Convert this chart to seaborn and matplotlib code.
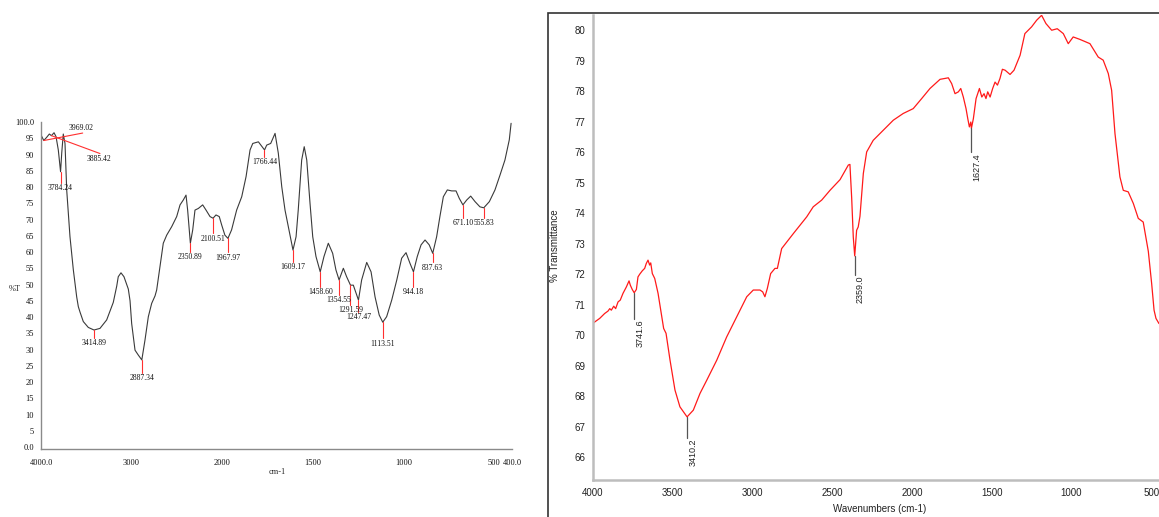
import numpy as np
import pandas as pd
import matplotlib
matplotlib.use("Agg")
import matplotlib.pyplot as plt
from matplotlib.patches import Rectangle
from matplotlib.ticker import MultipleLocator
import seaborn as sns

# ---------------- data: left spectrum ----------------
wn_left = [4000, 3969, 3937, 3908, 3885, 3856, 3834, 3809, 3784, 3771, 3754, 3735, 3716, 3680,
           3643, 3606, 3588, 3569, 3533, 3478, 3415, 3349, 3275, 3202, 3164, 3147, 3117, 3084,
           3036, 3017, 2999, 2962, 2926, 2887, 2852, 2815, 2778, 2741, 2723, 2686, 2650, 2612,
           2557, 2502, 2465, 2429, 2399, 2381, 2351, 2325, 2300, 2263, 2215, 2178, 2134, 2100.5,
           2068, 2032, 2005, 1985, 1968, 1948, 1920, 1892, 1868, 1846, 1831, 1800, 1766, 1754,
           1732, 1708, 1690, 1671, 1653, 1635, 1609, 1592, 1580, 1561, 1547, 1533, 1515, 1500,
           1482, 1458.6, 1438, 1414, 1390, 1372, 1354.5, 1331, 1313, 1291.6, 1276, 1247.5, 1230,
           1202, 1178, 1156, 1133, 1113.5, 1092, 1064, 1036, 1009, 985, 963, 944, 923, 902, 880,
           857, 837.6, 816, 798, 779, 757, 733, 709, 691, 671, 650, 628, 604, 577, 555.8, 525,
           494, 466, 439, 415, 405]
t_left = [96.0, 94.3, 95.3, 96.3, 95.8, 96.7, 95.5, 91.4, 84.7, 90.5, 96.3, 93.4, 79.0, 64.7,
          54.5, 46.2, 43.2, 41.5, 38.6, 36.8, 36.0, 36.5, 39.1, 44.5, 49.5, 52.4, 53.6, 52.4,
          48.6, 45.0, 38.0, 29.8, 28.3, 26.8, 32.9, 40.1, 44.2, 46.5, 48.3, 55.5, 62.7, 65.2,
          67.8, 70.9, 74.5, 76.0, 77.5, 72.9, 62.7, 66.8, 72.9, 73.4, 74.5, 72.9, 70.9, 70.4,
          71.4, 70.9, 68.3, 65.2, 64.2, 66.8, 72.9, 77.0, 83.2, 91.4, 93.4, 93.9, 91.4, 92.9,
          93.4, 96.5, 90.4, 80.1, 72.9, 67.8, 60.6, 64.7, 72.9, 88.3, 92.4, 88.3, 75.0, 64.7,
          58.6, 53.9, 58.6, 62.7, 59.6, 54.5, 51.4, 55.0, 52.4, 49.8, 49.8, 45.2, 51.4,
          56.8, 53.9, 46.2, 40.6, 38.4, 40.1, 45.2, 51.4, 58.1, 59.8, 56.5, 53.9, 58.6, 62.2, 63.7,
          62.2, 59.6, 64.7, 70.9, 77.0, 79.1, 78.8, 78.8, 76.5, 74.5, 76.0, 77.2, 75.5, 73.9, 73.6, 75.5,
          79.1, 83.7, 88.3, 94.5, 99.6]
peaks_left = [3784.24, 3414.89, 2887.34, 2350.89, 2100.51, 1967.97, 1766.44, 1609.17, 1458.60,
              1354.55, 1291.59, 1247.47, 1113.51, 944.18, 837.63, 671.10, 555.83]
peaks_left_diag = [3969.02, 3885.42]
left_xticks = [4000, 3000, 2000, 1500, 1000, 500, 400]
left_xticklabels = ["4000.0", "3000", "2000", "1500", "1000", "500", "400.0"]
left_yticks = list(range(0, 101, 5))
left_yticklabels = ["0.0"] + [str(v) for v in range(5, 100, 5)] + ["100.0"]

# ---------------- data: right spectrum ----------------
wn_right = [3998, 3958, 3927, 3906, 3895, 3885, 3870, 3858, 3843, 3829, 3812, 3791, 3774, 3766,
            3754, 3741.6, 3728, 3718, 3707, 3691, 3676, 3666, 3655, 3645, 3638, 3628, 3613, 3592,
            3572, 3557, 3542, 3517, 3486, 3455, 3410.2, 3371, 3329, 3287, 3224, 3162,
            3099, 3036, 2995, 2953, 2936, 2922, 2907, 2886, 2859, 2844, 2828, 2817, 2744, 2660,
            2619, 2566, 2514, 2451, 2399, 2389, 2378, 2368, 2359, 2347, 2337, 2326, 2305, 2284,
            2243, 2180, 2117, 2055, 1992, 1939, 1887, 1824, 1772, 1751, 1730, 1709, 1694, 1678,
            1661, 1650, 1640, 1631, 1627.4, 1615, 1598, 1577, 1562, 1548, 1536, 1525, 1510, 1494,
            1479, 1464, 1448, 1433, 1416, 1385, 1360, 1322, 1292, 1250, 1218, 1187, 1160, 1124,
            1089, 1051, 1020, 989, 947, 884, 832, 801, 769, 748, 727, 696, 675, 644, 612, 581,
            550, 518, 497, 482, 470, 451]
t_right = [70.40, 70.55, 70.71, 70.79, 70.87, 70.82, 70.95, 70.87, 71.09, 71.15, 71.37, 71.58, 71.78, 71.64,
           71.50, 71.39, 71.50, 71.91, 72.00, 72.11, 72.19, 72.35, 72.46, 72.30, 72.37, 72.02, 71.86, 71.37,
           70.71, 70.22, 70.06, 69.18, 68.20, 67.65, 67.32, 67.54, 68.09, 68.52, 69.18, 69.94,
           70.60, 71.26, 71.48, 71.48, 71.42, 71.26, 71.53, 72.02, 72.19, 72.19, 72.57, 72.84, 73.33, 73.88,
           74.21, 74.43, 74.75, 75.10, 75.58, 75.60, 74.50, 73.22, 72.60, 73.44, 73.55, 73.90, 75.30, 76.01,
           76.39, 76.72, 77.05, 77.27, 77.43, 77.76, 78.09, 78.39, 78.44, 78.25, 77.92, 77.98, 78.09, 77.81,
           77.43, 77.10, 76.83, 76.99, 76.78, 77.10, 77.76, 78.09, 77.81, 77.92, 77.76, 77.98, 77.81, 78.09,
           78.30, 78.20, 78.42, 78.72, 78.69, 78.55, 78.69, 79.18, 79.89, 80.11, 80.33, 80.49, 80.22, 80.00,
           80.05, 79.89, 79.56, 79.78, 79.70, 79.56, 79.12, 79.02, 78.58, 78.03, 76.61, 75.19, 74.75, 74.70,
           74.32, 73.83, 73.71, 72.75, 71.69, 70.82, 70.55, 70.38]
peaks_right = [3741.6, 3410.2, 2359.0, 1627.4]
right_xticks = [4000, 3500, 3000, 2500, 2000, 1500, 1000, 500]
right_yticks = list(range(66, 81))

df_left = pd.DataFrame({"wn": wn_left, "T": t_left})
df_right = pd.DataFrame({"wn": wn_right, "T": t_right})

# ---------------- styling ----------------
sns.set_style("white")
plt.rcParams["font.family"] = ["Liberation Sans", "DejaVu Sans"]

fig = plt.figure(figsize=(11.59, 5.17), dpi=100)
W, H = 1159.0, 517.0

# ====== left panel ======
serif = ["Liberation Serif", "DejaVu Serif"]
axL = fig.add_axes([41 / W, (H - 449.3) / H, 471 / W, 327.3 / H])


def fwd(x):
    x = np.asarray(x, dtype=float)
    return np.where(x >= 2000, x, 2 * x - 2000)


def inv(y):
    y = np.asarray(y, dtype=float)
    return np.where(y >= 2000, y, (y + 2000) / 2)


axL.set_xscale("function", functions=(fwd, inv))
sns.lineplot(data=df_left, x="wn", y="T", ax=axL, color="#3a3a3a", linewidth=0.8, sort=False)
axL.set_xlim(4000, 400)
axL.set_ylim(-0.7, 100)
axL.set_xticks(left_xticks)
axL.set_xticklabels(left_xticklabels)
axL.set_yticks(left_yticks)
axL.set_yticklabels(left_yticklabels)
axL.xaxis.set_minor_locator(matplotlib.ticker.NullLocator())
for lab in axL.get_xticklabels() + axL.get_yticklabels():
    lab.set_family(serif)
    lab.set_fontsize(6)
    lab.set_color("#111111")
axL.tick_params(axis="both", which="major", length=2, width=0.6, color="#555555", direction="out", pad=3)
axL.tick_params(axis="x", pad=5)
for s in ["top", "right"]:
    axL.spines[s].set_visible(False)
for s in ["left", "bottom"]:
    axL.spines[s].set_color("#8a8a8a")
    axL.spines[s].set_linewidth(1.0)
axL.set_xlabel("cm-1", family=serif, fontsize=6)
axL.set_ylabel("%T", family=serif, fontsize=6, rotation=0)
axL.xaxis.set_label_coords((277 - 41) / 471, -0.058)
axL.yaxis.set_label_coords((15 - 41) / 471, 0.478)

pxL = 3.25
line_px_left = [11.6, 8, 13, 9, 15, 14, 7, 12, 15, 15, 20, 12, 16, 15, 9, 13, 10]
wn_sorted = np.array(wn_left[::-1], dtype=float)
t_sorted = np.array(t_left[::-1], dtype=float)
for pk, lp in zip(peaks_left, line_px_left):
    t0 = np.interp(pk, wn_sorted, t_sorted)
    t1 = t0 - lp / pxL
    axL.plot([pk, pk], [t0, t1], color="#ff3030", lw=0.8)
    axL.text(pk, t1 - 0.4, f"{pk:.2f}", ha="center", va="top", family=serif, fontsize=5.5, color="#111111")

diag_targets = [(3540, 96.6, 3553, 98.2), (3349, 90.3, 3356, 88.7)]
for pk, (xe, ye, xt, yt) in zip(peaks_left_diag, diag_targets):
    t0 = np.interp(pk, wn_sorted, t_sorted)
    axL.plot([pk, xe], [t0, ye], color="#ff3030", lw=0.8)
    axL.text(xt, yt, f"{pk:.2f}", ha="center", va="center", family=serif, fontsize=5.5, color="#111111")

# ====== right panel ======
fig.patches.append(Rectangle((548 / W, -0.02), 1.0, 1 - 13 / H + 0.02, transform=fig.transFigure,
                             fill=False, edgecolor="#333333", linewidth=1.2))
axR = fig.add_axes([593 / W, (H - 480) / H, (W - 593) / W, 465 / H])
sns.lineplot(data=df_right, x="wn", y="T", ax=axR, color="#ff1a1a", linewidth=0.9, sort=False)
axR.set_xlim(4000, 451)
axR.set_ylim(65.25, 80.5)
axR.set_xticks(right_xticks)
axR.set_yticks(right_yticks)
axR.xaxis.set_minor_locator(MultipleLocator(100))
axR.yaxis.set_minor_locator(MultipleLocator(0.2))
axR.tick_params(axis="both", which="major", length=3.5, width=0.8, color="#333333",
                direction="out", labelsize=7, labelcolor="#222222", pad=2)
axR.tick_params(axis="both", which="minor", length=1.8, width=0.7, color="#333333", direction="out")
for s in ["top", "right"]:
    axR.spines[s].set_visible(False)
for s in ["left", "bottom"]:
    axR.spines[s].set_color("#bdbdbd")
    axR.spines[s].set_linewidth(1.8)
axR.set_xlabel("Wavenumbers (cm-1)", fontsize=7, color="#222222")
axR.set_ylabel("% Transmittance", fontsize=7, color="#222222")
axR.xaxis.set_label_coords((880 - 593) / (W - 593), -(504 - 480) / 465)
axR.yaxis.set_label_coords((560 - 593) / (W - 593), (480 - 246) / 465)

pxR = 30.5
line_px_right = [26, 21, 19, 24]
wr_sorted = np.array(wn_right[::-1], dtype=float)
tr_sorted = np.array(t_right[::-1], dtype=float)
for pk, lp in zip(peaks_right, line_px_right):
    t0 = np.interp(pk, wr_sorted, tr_sorted)
    t1 = t0 - lp / pxR
    axR.plot([pk, pk], [t0, t1], color="#555555", lw=0.9)
    axR.text(pk - 8, t1 - 0.03, f"{pk:.1f}", ha="left", va="top", rotation=90,
             fontsize=6.5, color="#222222")

fig.savefig("out.png", dpi=100)
